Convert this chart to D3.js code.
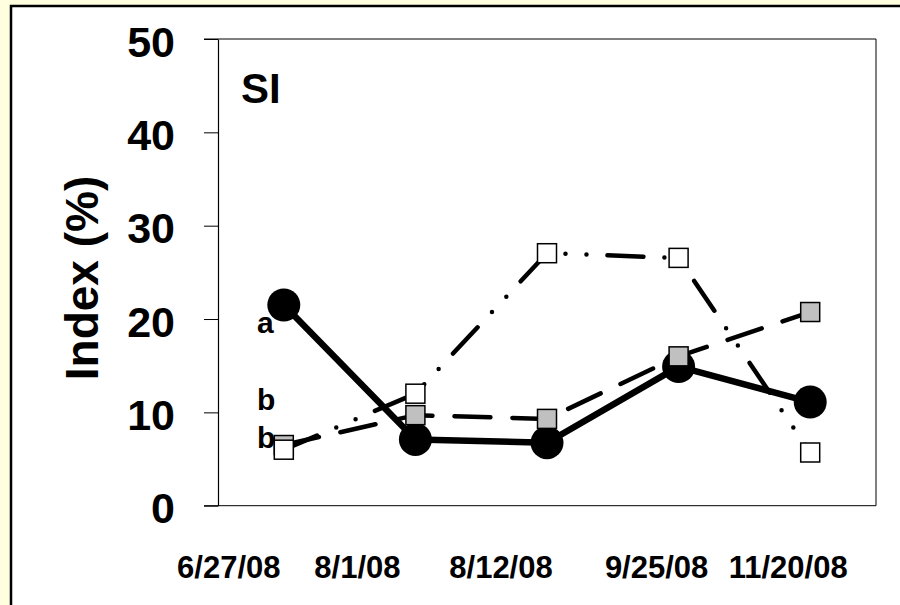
<!DOCTYPE html>
<html>
<head>
<meta charset="utf-8">
<script src="https://d3js.org/d3.v7.min.js"></script>
<style>
  html, body { margin: 0; padding: 0; background: #FFFFE0; }
  svg { display: block; font-family: "Liberation Sans", Arial, sans-serif; }
</style>
</head>
<body>
<script>
// ---- data ----
const categories = ["6/27/08", "8/1/08", "8/12/08", "9/25/08", "11/20/08"];
const seriesCircle = [21.5, 7.1, 6.75, 14.9, 11.1];      // black circles, solid
const seriesGray   = [6.5, 9.7, 9.3, 16.0, 20.75];       // gray squares, long dash
const seriesWhite  = [6.0, 12.0, 27.05, 26.55, 5.7];     // white squares, dash-dot-dot
const yTicks = [0, 10, 20, 30, 40, 50];
const panelTitle = "SI";
const yTitle = "Index (%)";
const letterLabels = ["a", "b", "b"];
const letterBaselineValues = [18.5, 10.2, 6.2];

// ---- layout ----
const W = 900, H = 605;
const plot = { left: 218, right: 876, top: 39, bottom: 505.7 };
const labelNudge = [-55, -58, -46, -22, -22];

const svg = d3.select("body").append("svg").attr("width", W).attr("height", H);

svg.append("rect").attr("width", W).attr("height", H).attr("fill", "#FFFFE0");
svg.append("rect").attr("x", 11).attr("y", 6).attr("width", W + 10).attr("height", H + 10)
  .attr("fill", "#ffffff").attr("stroke", "#000").attr("stroke-width", 2.5);

const x = d3.scalePoint().domain(categories).range([plot.left, plot.right]).padding(0.5);
const y = d3.scaleLinear().domain([0, 50]).range([plot.bottom, plot.top]);

// frame (top / right / bottom)
svg.append("line").attr("x1", 204).attr("x2", plot.right).attr("y1", plot.top).attr("y2", plot.top)
  .attr("stroke", "#000").attr("stroke-width", 1);
svg.append("line").attr("x1", plot.right).attr("x2", plot.right).attr("y1", plot.top).attr("y2", plot.bottom)
  .attr("stroke", "#000").attr("stroke-width", 1);
svg.append("line").attr("x1", 204).attr("x2", plot.right).attr("y1", plot.bottom).attr("y2", plot.bottom)
  .attr("stroke", "#000").attr("stroke-width", 1);

// y axis
const yAxis = d3.axisLeft(y).tickValues(yTicks).tickSize(14).tickSizeOuter(0).tickPadding(29)
  .tickFormat(d3.format("d"));
const gy = svg.append("g").attr("transform", `translate(${plot.left},0)`).call(yAxis);
gy.select(".domain").attr("stroke", "#000").attr("stroke-width", 1.2);
gy.selectAll(".tick line").attr("stroke", "#000").attr("stroke-width", 1);
gy.selectAll(".tick text").attr("font-size", 43).attr("font-weight", "bold")
  .attr("fill", "#000").attr("dy", "0.4em")
  .attr("font-family", "'Liberation Sans', Arial, sans-serif");

// x labels
svg.append("g").selectAll("text").data(categories).join("text")
  .attr("x", (d, i) => x(d) + labelNudge[i])
  .attr("y", 578)
  .attr("text-anchor", "middle")
  .attr("font-size", 31).attr("font-weight", "bold")
  .text(d => d);

// y title
svg.append("text")
  .attr("transform", "translate(97.5,278) rotate(-90)")
  .attr("text-anchor", "middle")
  .attr("font-size", 46).attr("font-weight", "bold")
  .text(yTitle);

// panel title
svg.append("text").attr("x", 241).attr("y", 103)
  .attr("font-size", 42).attr("font-weight", "bold").text(panelTitle);

const line = d3.line().x((d, i) => x(categories[i])).y(d => y(d));

// series 1: black circles, thick solid
svg.append("path").datum(seriesCircle).attr("d", line)
  .attr("fill", "none").attr("stroke", "#000").attr("stroke-width", 6.5)
  .attr("stroke-linejoin", "round");
svg.append("g").selectAll("circle").data(seriesCircle).join("circle")
  .attr("cx", (d, i) => x(categories[i])).attr("cy", d => y(d)).attr("r", 16.5)
  .attr("fill", "#000");

// series 2: gray squares, long dash
svg.append("path").datum(seriesGray).attr("d", line)
  .attr("fill", "none").attr("stroke", "#000").attr("stroke-width", 4.5)
  .attr("stroke-linecap", "round").attr("stroke-dasharray", "36 22");
const sq = 19;
svg.append("g").selectAll("rect").data(seriesGray).join("rect")
  .attr("x", (d, i) => x(categories[i]) - sq / 2).attr("y", d => y(d) - sq / 2)
  .attr("width", sq).attr("height", sq)
  .attr("fill", "#C0C0C0").attr("stroke", "#000").attr("stroke-width", 1.5);

// series 3: white squares, dash-dot-dot
svg.append("path").datum(seriesWhite).attr("d", line)
  .attr("fill", "none").attr("stroke", "#000").attr("stroke-width", 4.5)
  .attr("stroke-linecap", "round").attr("stroke-dasharray", "36 21 0 21 0 21");
svg.append("g").selectAll("rect").data(seriesWhite).join("rect")
  .attr("x", (d, i) => x(categories[i]) - sq / 2).attr("y", d => y(d) - sq / 2)
  .attr("width", sq).attr("height", sq)
  .attr("fill", "#ffffff").attr("stroke", "#000").attr("stroke-width", 1.5);

// significance letters
svg.append("g").selectAll("text").data(letterLabels).join("text")
  .attr("x", 257).attr("y", (d, i) => y(letterBaselineValues[i]))
  .attr("font-size", 30).attr("font-weight", "bold")
  .text(d => d);
</script>
</body>
</html>
